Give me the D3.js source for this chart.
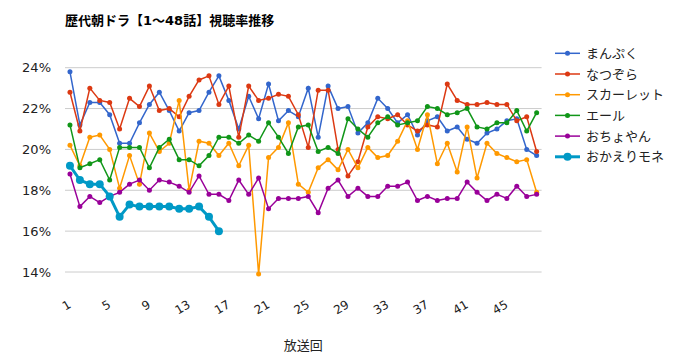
<!DOCTYPE html>
<html>
<head>
<meta charset="utf-8">
<script src="https://cdn.jsdelivr.net/npm/d3@7"></script>
<style>
  body { margin: 0; background: #fff; }
  svg { display: block; font-family: "DejaVu Sans", "Noto Sans CJK JP", sans-serif; }
</style>
</head>
<body>
<div id="chart"></div>
<script>
const title = "歴代朝ドラ【1〜48話】視聴率推移"
const xTitle = "放送回"

const episodes = d3.range(1, 49)
const xTickLabels = [1, 5, 9, 13, 17, 21, 25, 29, 33, 37, 41, 45]
const yTicks = [14, 16, 18, 20, 22, 24]

const seriesNames = ["まんぷく", "なつぞら", "スカーレット", "エール", "おちょやん", "おかえりモネ"]

const manpuku = [23.8, 21.2, 22.3, 22.3, 21.7, 20.3, 20.3, 21.3, 22.2, 22.8, 21.9, 20.9, 21.8, 21.9, 22.8, 23.6,
  22.4, 21.0, 22.6, 21.5, 23.2, 21.4, 21.9, 21.6, 23.0, 20.6, 23.1, 22.0, 22.1, 20.8, 21.3, 22.5,
  22.0, 21.3, 21.7, 20.7, 21.4, 21.6, 20.9, 21.1, 20.5, 20.3, 20.8, 21.0, 21.4, 21.5, 20.0, 19.7]
const natsuzora = [22.8, 20.9, 23.0, 22.4, 22.3, 21.0, 22.5, 22.1, 23.1, 21.9, 22.0, 21.6, 22.6, 23.4, 23.6, 22.2,
  23.1, 20.6, 23.1, 22.4, 22.5, 22.7, 22.6, 21.7, 20.1, 22.9, 22.9, 20.0, 18.7, 19.4, 21.1, 21.6,
  21.5, 21.7, 21.2, 20.9, 21.2, 21.1, 23.2, 22.4, 22.2, 22.2, 22.3, 22.2, 22.2, 21.4, 21.6, 19.9]
const scarlet = [20.2, 19.2, 20.6, 20.7, 20.0, 18.1, 19.7, 18.3, 20.8, 19.9, 20.3, 22.4, 18.0, 20.4, 20.3, 19.7,
  20.3, 19.2, 20.2, 13.9, 19.6, 20.1, 21.3, 18.3, 17.9, 19.1, 19.5, 19.0, 20.0, 19.1, 20.1, 19.6,
  19.7, 20.4, 21.4, 20.0, 21.7, 19.3, 20.3, 18.9, 21.1, 18.6, 20.3, 19.8, 19.6, 19.4, 19.5, 17.9]
const yell = [21.2, 19.1, 19.3, 19.5, 18.5, 20.1, 20.1, 20.1, 19.1, 20.1, 20.5, 19.5, 19.5, 19.2, 19.7, 20.6,
  20.6, 20.3, 20.7, 20.4, 21.3, 20.6, 19.8, 21.1, 21.2, 19.9, 20.1, 19.8, 21.5, 21.0, 20.6, 21.3,
  21.6, 21.2, 21.3, 21.4, 22.1, 22.0, 21.7, 21.8, 22.0, 21.1, 21.0, 21.3, 21.3, 21.9, 20.9, 21.8]
const ochoyan = [18.8, 17.2, 17.7, 17.4, 17.7, 17.9, 18.3, 18.5, 18.0, 18.5, 18.4, 18.2, 17.9, 18.7, 17.8, 17.8,
  17.5, 18.5, 17.8, 18.6, 17.1, 17.6, 17.6, 17.6, 17.7, 16.9, 18.1, 18.5, 17.7, 18.1, 17.7, 17.7,
  18.2, 18.2, 18.4, 17.5, 17.7, 17.5, 17.6, 17.6, 18.4, 17.9, 17.5, 17.8, 17.6, 18.2, 17.7, 17.8]
const okaeriMone = [19.2, 18.5, 18.3, 18.3, 17.7, 16.7, 17.3, 17.2, 17.2, 17.2, 17.2, 17.1, 17.1, 17.2, 16.7, 16.0]

const colors = ["#3366cc", "#dc3912", "#ff9900", "#109618", "#990099", "#0099c6"]

const series = [manpuku, natsuzora, scarlet, yell, ochoyan, okaeriMone].map((vals, i) => ({
  name: seriesNames[i],
  color: colors[i],
  big: i === 5,
  points: vals.map((v, j) => ({ ep: episodes[j], v: v }))
}))

const width = 680
const height = 353
const plotLeft = 65, plotRight = 541.6, plotTop = 67.7, plotBottom = 272

const svg = d3.select("#chart")
  .append("svg")
  .attr("width", width)
  .attr("height", height)

const x = d3.scalePoint()
  .domain(episodes)
  .range([plotLeft, plotRight])
  .padding(0.5)

const y = d3.scaleLinear()
  .domain([14, 24])
  .range([plotBottom, plotTop])

// title
svg.append("text")
  .attr("x", plotLeft)
  .attr("y", 24.5)
  .style("font-size", "13px")
  .style("font-weight", "bold")
  .style("fill", "#000")
  .text(title)

// gridlines + y labels
svg.selectAll(".grid")
  .data(yTicks)
  .join("line")
  .attr("x1", plotLeft)
  .attr("x2", plotRight)
  .attr("y1", d => y(d))
  .attr("y2", d => y(d))
  .attr("stroke", "#cccccc")
  .attr("stroke-width", 1)

svg.selectAll(".ylab")
  .data(yTicks)
  .join("text")
  .attr("x", 51)
  .attr("y", d => y(d))
  .attr("dy", "0.35em")
  .attr("text-anchor", "end")
  .style("font-size", "13px")
  .style("fill", "#222")
  .text(d => d + "%")

// x tick labels (slanted)
svg.selectAll(".xlab")
  .data(xTickLabels)
  .join("text")
  .attr("transform", d => `translate(${x(d) + 2}, 307) rotate(-30)`)
  .attr("text-anchor", "end")
  .style("font-size", "12px")
  .style("fill", "#222")
  .text(d => d)

svg.append("text")
  .attr("x", (plotLeft + plotRight) / 2)
  .attr("y", 350)
  .attr("text-anchor", "middle")
  .style("font-size", "13px")
  .style("fill", "#222")
  .text(xTitle)

const line = d3.line()
  .x(d => x(d.ep))
  .y(d => y(d.v))

const g = svg.selectAll(".series")
  .data(series)
  .join("g")

g.append("path")
  .attr("d", d => line(d.points))
  .attr("fill", "none")
  .attr("stroke", d => d.color)
  .attr("stroke-width", d => d.big ? 3 : 1.5)

g.selectAll("circle")
  .data(d => d.points.map(p => ({ ...p, color: d.color, big: d.big })))
  .join("circle")
  .attr("cx", d => x(d.ep))
  .attr("cy", d => y(d.v))
  .attr("r", d => d.big ? 4 : 2.5)
  .attr("fill", d => d.color)

// legend
const legend = svg.selectAll(".legend")
  .data(series)
  .join("g")
  .attr("transform", (d, i) => `translate(555, ${53.3 + i * 20.7})`)

legend.append("line")
  .attr("x1", 0)
  .attr("x2", 25)
  .attr("stroke", d => d.color)
  .attr("stroke-width", d => d.big ? 3 : 1.5)

legend.append("circle")
  .attr("cx", 12.5)
  .attr("r", d => d.big ? 4 : 2.5)
  .attr("fill", d => d.color)

legend.append("text")
  .attr("x", 31)
  .attr("dy", "0.35em")
  .style("font-size", "13px")
  .style("fill", "#222")
  .text(d => d.name)
</script>
</body>
</html>
